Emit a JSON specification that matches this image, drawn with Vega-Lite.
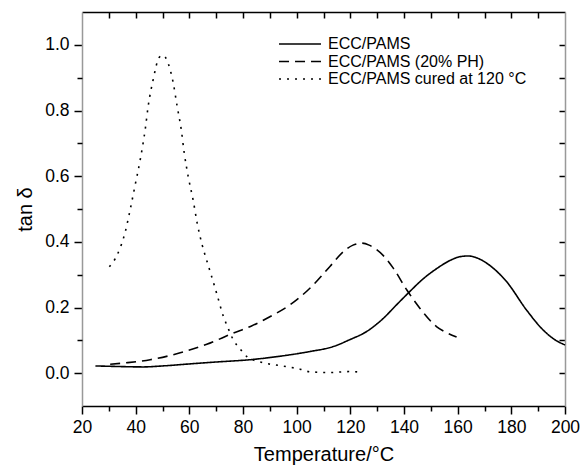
{
  "$schema": "https://vega.github.io/schema/vega-lite/v6.json",
  "width": 483,
  "height": 394,
  "autosize": "none",
  "padding": {"left": 82, "top": 12, "right": 17, "bottom": 65},
  "background": "white",
  "config": {"view": {"stroke": null}, "font": "Liberation Sans", "axis": {"grid": false, "tickColor": "#000000", "tickWidth": 1.5, "zindex": 1, "labelFlush": false}},
  "data": {"values": [
    {"series": "ECC/PAMS", "T": 25, "tan": 0.022},
    {"series": "ECC/PAMS", "T": 30, "tan": 0.021},
    {"series": "ECC/PAMS", "T": 35, "tan": 0.02},
    {"series": "ECC/PAMS", "T": 42.8, "tan": 0.019},
    {"series": "ECC/PAMS", "T": 50, "tan": 0.022},
    {"series": "ECC/PAMS", "T": 61.4, "tan": 0.029},
    {"series": "ECC/PAMS", "T": 70, "tan": 0.034},
    {"series": "ECC/PAMS", "T": 82.6, "tan": 0.041},
    {"series": "ECC/PAMS", "T": 95, "tan": 0.053},
    {"series": "ECC/PAMS", "T": 105, "tan": 0.066},
    {"series": "ECC/PAMS", "T": 113.6, "tan": 0.081},
    {"series": "ECC/PAMS", "T": 119.8, "tan": 0.102},
    {"series": "ECC/PAMS", "T": 126.1, "tan": 0.127},
    {"series": "ECC/PAMS", "T": 132.3, "tan": 0.167},
    {"series": "ECC/PAMS", "T": 137.2, "tan": 0.208},
    {"series": "ECC/PAMS", "T": 142.2, "tan": 0.249},
    {"series": "ECC/PAMS", "T": 147.1, "tan": 0.287},
    {"series": "ECC/PAMS", "T": 152.1, "tan": 0.318},
    {"series": "ECC/PAMS", "T": 157.1, "tan": 0.343},
    {"series": "ECC/PAMS", "T": 161, "tan": 0.355},
    {"series": "ECC/PAMS", "T": 164, "tan": 0.357},
    {"series": "ECC/PAMS", "T": 167.5, "tan": 0.35},
    {"series": "ECC/PAMS", "T": 172, "tan": 0.328},
    {"series": "ECC/PAMS", "T": 178.2, "tan": 0.279},
    {"series": "ECC/PAMS", "T": 185.6, "tan": 0.193},
    {"series": "ECC/PAMS", "T": 191.8, "tan": 0.132},
    {"series": "ECC/PAMS", "T": 196, "tan": 0.103},
    {"series": "ECC/PAMS", "T": 200, "tan": 0.086},
    {"series": "ECC/PAMS (20% PH)", "T": 30.5, "tan": 0.027},
    {"series": "ECC/PAMS (20% PH)", "T": 37, "tan": 0.032},
    {"series": "ECC/PAMS (20% PH)", "T": 45.4, "tan": 0.041},
    {"series": "ECC/PAMS (20% PH)", "T": 56.6, "tan": 0.062},
    {"series": "ECC/PAMS (20% PH)", "T": 66.5, "tan": 0.088},
    {"series": "ECC/PAMS (20% PH)", "T": 76.4, "tan": 0.122},
    {"series": "ECC/PAMS (20% PH)", "T": 83, "tan": 0.143},
    {"series": "ECC/PAMS (20% PH)", "T": 90, "tan": 0.172},
    {"series": "ECC/PAMS (20% PH)", "T": 97.5, "tan": 0.208},
    {"series": "ECC/PAMS (20% PH)", "T": 105.6, "tan": 0.264},
    {"series": "ECC/PAMS (20% PH)", "T": 112.4, "tan": 0.325},
    {"series": "ECC/PAMS (20% PH)", "T": 117.4, "tan": 0.37},
    {"series": "ECC/PAMS (20% PH)", "T": 121, "tan": 0.39},
    {"series": "ECC/PAMS (20% PH)", "T": 124.2, "tan": 0.396},
    {"series": "ECC/PAMS (20% PH)", "T": 127, "tan": 0.39},
    {"series": "ECC/PAMS (20% PH)", "T": 129.8, "tan": 0.376},
    {"series": "ECC/PAMS (20% PH)", "T": 133, "tan": 0.352},
    {"series": "ECC/PAMS (20% PH)", "T": 136, "tan": 0.32},
    {"series": "ECC/PAMS (20% PH)", "T": 141, "tan": 0.254},
    {"series": "ECC/PAMS (20% PH)", "T": 145.9, "tan": 0.198},
    {"series": "ECC/PAMS (20% PH)", "T": 152.1, "tan": 0.142},
    {"series": "ECC/PAMS (20% PH)", "T": 156, "tan": 0.123},
    {"series": "ECC/PAMS (20% PH)", "T": 159.6, "tan": 0.11},
    {"series": "ECC/PAMS cured at 120 °C", "T": 30.2, "tan": 0.324},
    {"series": "ECC/PAMS cured at 120 °C", "T": 33.1, "tan": 0.36},
    {"series": "ECC/PAMS cured at 120 °C", "T": 36.1, "tan": 0.43},
    {"series": "ECC/PAMS cured at 120 °C", "T": 38, "tan": 0.5},
    {"series": "ECC/PAMS cured at 120 °C", "T": 39.8, "tan": 0.573},
    {"series": "ECC/PAMS cured at 120 °C", "T": 41.7, "tan": 0.65},
    {"series": "ECC/PAMS cured at 120 °C", "T": 43.6, "tan": 0.745},
    {"series": "ECC/PAMS cured at 120 °C", "T": 44.7, "tan": 0.815},
    {"series": "ECC/PAMS cured at 120 °C", "T": 46.5, "tan": 0.893},
    {"series": "ECC/PAMS cured at 120 °C", "T": 48.8, "tan": 0.962},
    {"series": "ECC/PAMS cured at 120 °C", "T": 50.3, "tan": 0.968},
    {"series": "ECC/PAMS cured at 120 °C", "T": 51.7, "tan": 0.952},
    {"series": "ECC/PAMS cured at 120 °C", "T": 54, "tan": 0.884},
    {"series": "ECC/PAMS cured at 120 °C", "T": 55.5, "tan": 0.811},
    {"series": "ECC/PAMS cured at 120 °C", "T": 57, "tan": 0.741},
    {"series": "ECC/PAMS cured at 120 °C", "T": 58.1, "tan": 0.671},
    {"series": "ECC/PAMS cured at 120 °C", "T": 59.6, "tan": 0.598},
    {"series": "ECC/PAMS cured at 120 °C", "T": 61.4, "tan": 0.528},
    {"series": "ECC/PAMS cured at 120 °C", "T": 62.9, "tan": 0.458},
    {"series": "ECC/PAMS cured at 120 °C", "T": 64.8, "tan": 0.39},
    {"series": "ECC/PAMS cured at 120 °C", "T": 66.6, "tan": 0.34},
    {"series": "ECC/PAMS cured at 120 °C", "T": 68.1, "tan": 0.3},
    {"series": "ECC/PAMS cured at 120 °C", "T": 70.3, "tan": 0.24},
    {"series": "ECC/PAMS cured at 120 °C", "T": 72.6, "tan": 0.175},
    {"series": "ECC/PAMS cured at 120 °C", "T": 74.4, "tan": 0.138},
    {"series": "ECC/PAMS cured at 120 °C", "T": 76.3, "tan": 0.103},
    {"series": "ECC/PAMS cured at 120 °C", "T": 78.9, "tan": 0.074},
    {"series": "ECC/PAMS cured at 120 °C", "T": 81.5, "tan": 0.05},
    {"series": "ECC/PAMS cured at 120 °C", "T": 87.5, "tan": 0.032},
    {"series": "ECC/PAMS cured at 120 °C", "T": 94.6, "tan": 0.022},
    {"series": "ECC/PAMS cured at 120 °C", "T": 101.3, "tan": 0.012},
    {"series": "ECC/PAMS cured at 120 °C", "T": 105, "tan": 0.004},
    {"series": "ECC/PAMS cured at 120 °C", "T": 112.4, "tan": 0.002},
    {"series": "ECC/PAMS cured at 120 °C", "T": 119.9, "tan": 0.005},
    {"series": "ECC/PAMS cured at 120 °C", "T": 124.7, "tan": 0.002}
  ]},
  "layer": [
    {
      "mark": {"type": "line", "interpolate": "monotone", "strokeWidth": 1.6, "color": "black"},
      "encoding": {
        "x": {
          "field": "T", "type": "quantitative",
          "scale": {"domain": [20, 200], "nice": false, "zero": false},
          "axis": {
            "orient": "bottom", "title": "Temperature/°C",
            "values": [20, 40, 60, 80, 100, 120, 140, 160, 180, 200],
            "tickSize": 8, "labelFlush": false,
            "labelFontSize": 17.5, "titleFontSize": 20, "titleFontWeight": "normal",
            "labelPadding": 4, "titlePadding": 9,
            "domainColor": "black", "domainWidth": 1.5,
            "labelColor": "black", "titleColor": "black"
          }
        },
        "y": {
          "field": "tan", "type": "quantitative",
          "scale": {"domain": [-0.1, 1.1], "nice": false, "zero": false},
          "axis": {
            "orient": "left", "title": "tan δ", "format": ".1f",
            "values": [0, 0.2, 0.4, 0.6, 0.8, 1.0],
            "tickSize": 8, "labelFlush": false,
            "labelFontSize": 17.5, "titleFontSize": 20, "titleFontWeight": "normal",
            "labelPadding": 5, "titlePadding": 9,
            "domainColor": "#999999", "domainWidth": 1.5,
            "labelColor": "black", "titleColor": "black"
          }
        },
        "strokeDash": {
          "field": "series", "type": "nominal",
          "scale": {
            "domain": ["ECC/PAMS", "ECC/PAMS (20% PH)", "ECC/PAMS cured at 120 °C"],
            "range": [[1, 0], [10, 6], [2, 6]]
          },
          "legend": {
            "title": null, "orient": "none", "legendX": 210, "legendY": 24,
            "symbolType": "M-4,0H4", "symbolSize": 110, "symbolStrokeWidth": 1.6,
            "symbolStrokeColor": "black", "labelFontSize": 16, "labelColor": "black",
            "labelOffset": 20, "rowPadding": 1.5, "padding": 0, "labelLimit": 400
          }
        }
      }
    },
    {
      "mark": {"type": "line", "strokeOpacity": 0},
      "encoding": {
        "x": {
          "field": "T", "type": "quantitative",
          "axis": {
            "orient": "bottom", "title": null, "labels": false, "domain": false,
            "values": [30, 50, 70, 90, 110, 130, 150, 170, 190],
            "tickSize": 5
          }
        },
        "y": {
          "field": "tan", "type": "quantitative",
          "axis": {
            "orient": "left", "title": null, "labels": false, "domain": false,
            "values": [0.1, 0.3, 0.5, 0.7, 0.9],
            "tickSize": 5
          }
        },
        "detail": {"field": "series", "type": "nominal"}
      }
    },
    {
      "mark": {"type": "line", "strokeOpacity": 0},
      "encoding": {
        "x": {
          "field": "T", "type": "quantitative",
          "axis": {
            "orient": "top", "title": null, "labels": false,
            "values": [30, 40, 50, 60, 70, 80, 90, 100, 110, 120, 130, 140, 150, 160, 170, 180, 190],
            "tickSize": -6, "domainColor": "black", "domainWidth": 1.5
          }
        },
        "y": {
          "field": "tan", "type": "quantitative",
          "axis": {
            "orient": "right", "title": null, "labels": false,
            "values": [0, 0.1, 0.2, 0.3, 0.4, 0.5, 0.6, 0.7, 0.8, 0.9, 1.0],
            "tickSize": -6, "domainColor": "#999999", "domainWidth": 1.5
          }
        },
        "detail": {"field": "series", "type": "nominal"}
      }
    }
  ],
  "resolve": {
    "scale": {"x": "shared", "y": "shared"},
    "axis": {"x": "independent", "y": "independent"}
  }
}
